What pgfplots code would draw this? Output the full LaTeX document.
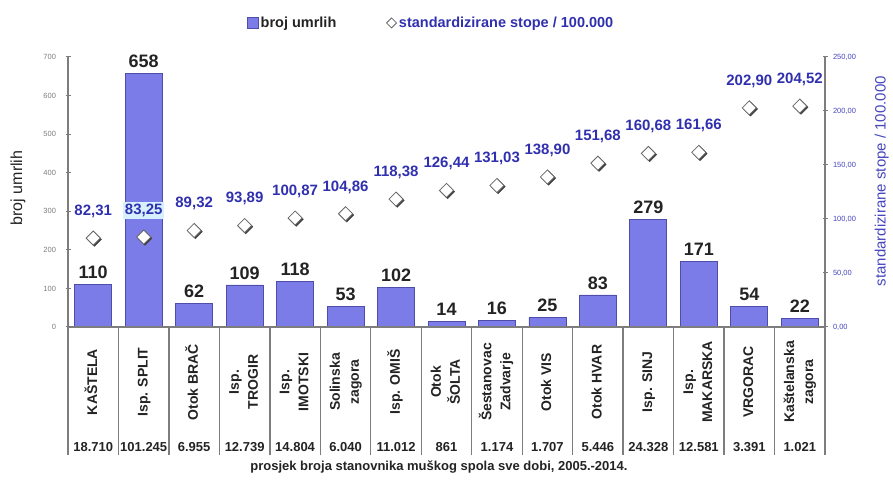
\documentclass[border=0pt]{standalone}
\usepackage{graphicx}
\usepackage{pgfplots}
\pgfplotsset{compat=1.18}
\usepackage{pgfplotstable}
\usepackage{fontspec}
\setmainfont{Liberation Sans}
\definecolor{barfill}{RGB}{124,124,232}
\definecolor{baredge}{RGB}{78,78,170}
\definecolor{rateblue}{RGB}{48,48,175}
\definecolor{tickblue}{RGB}{70,70,190}
\definecolor{axisgray}{RGB}{125,125,125}
\definecolor{hl}{RGB}{214,240,255}
\definecolor{darktext}{RGB}{35,35,35}
\newcommand\rl[1]{\rotatebox{90}{\begin{tabular}{@{}c@{}}#1\end{tabular}}}

\pgfplotstableread{
x deaths rate
0 110 82.31
1 658 83.25
2 62 89.32
3 109 93.89
4 118 100.87
5 53 104.86
6 102 118.38
7 14 126.44
8 16 131.03
9 25 138.90
10 83 151.68
11 279 160.68
12 171 161.66
13 54 202.90
14 22 204.52
}\data

\pgfplotsset{
  common/.style={
    scale only axis, width=757pt, height=270pt,
    at={(68pt,154pt)}, anchor=south west,
    xmin=-0.5, xmax=14.5,
    /pgf/number format/assume math mode=true,
    axis line style={draw=axisgray, line width=1.3pt},
    clip=false,
  }
}

\begin{document}
\begin{tikzpicture}
\useasboundingbox (0,0) rectangle (893pt,481pt);

% ---- bars: broj umrlih ----
\begin{axis}[common,
  ymin=0, ymax=700,
  axis x line*=bottom, axis y line*=left,
  ytick={0,100,...,700},
  tick align=center, major tick length=5pt,
  ytick style={draw=axisgray, line width=1pt},
  yticklabel style={font=\fontsize{7.5}{7.5}\selectfont, text=axisgray, xshift=-6pt},
  xtick=data,
  xtick style={draw=none},
  xticklabels={\rl{KAŠTELA}, \rl{Isp. SPLIT}, \rl{Otok BRAČ}, \rl{Isp.\\TROGIR}, \rl{Isp.\\IMOTSKI}, \rl{Solinska\\zagora}, \rl{Isp. OMIŠ}, \rl{Otok\\ŠOLTA}, \rl{Šestanovac\\Zadvarje}, \rl{Otok VIS}, \rl{Otok HVAR}, \rl{Isp. SINJ}, \rl{Isp.\\MAKARSKA}, \rl{VRGORAC}, \rl{Kaštelanska\\zagora}},
  xticklabel style={anchor=center, yshift=-50pt, text=darktext, font=\bfseries\fontsize{14}{19}\selectfont},
  extra x ticks={-0.5,0.5,1.5,2.5,3.5,4.5,5.5,6.5,7.5,8.5,9.5,10.5,11.5,12.5,13.5,14.5},
  extra x tick labels={},
  extra x tick style={tick align=outside, major tick length=128pt, xtick style={draw=axisgray, line width=1.3pt}},
  every axis y label/.style={at={(axis description cs:-0.066,0.515)}, rotate=90, anchor=center},
  ylabel={broj umrlih},
  ylabel style={font=\fontsize{16}{16}\selectfont, text=darktext},
  ybar, bar width=37pt,
  nodes near coords,
  nodes near coords style={font=\bfseries\fontsize{18}{18}\selectfont, text=darktext, yshift=2pt},
  legend style={draw=none, fill=none, at={(axis description cs:0.236,1.126)}, anchor=west, font=\bfseries\fontsize{14.5}{14.5}\selectfont, text=darktext, inner sep=0pt},
]
\addplot[draw=baredge, line width=0.8pt, fill=barfill,
  legend image code/.code={\draw[baredge, fill=barfill] (0pt,-5pt) rectangle (11pt,6pt);}]
  table[x=x, y=deaths] {\data};
\addlegendentry{broj umrlih}
\end{axis}

% ---- markers: standardizirane stope ----
\begin{axis}[common,
  ymin=0, ymax=250,
  axis x line*=bottom, axis y line*=right,
  ytick={0,50,...,250},
  tick align=center, major tick length=5pt,
  ytick style={draw=axisgray, line width=1pt},
  yticklabel style={font=\fontsize{7.5}{7.5}\selectfont, text=tickblue, xshift=2pt,
    /pgf/number format/.cd, fixed, zerofill, precision=2, use comma, 1000 sep={.}},
  xtick=data,
  xtick style={draw=none},
  xticklabels={18.710, 101.245, 6.955, 12.739, 14.804, 6.040, 11.012, 861, 1.174, 1.707, 5.446, 24.328, 12.581, 3.391, 1.021},
  xticklabel style={anchor=center, yshift=-118pt, text=darktext, font=\bfseries\fontsize{13}{13}\selectfont},
  every axis y label/.style={at={(axis description cs:1.075,0.54)}, rotate=90, anchor=center},
  ylabel={standardizirane stope / 100.000},
  ylabel style={font=\fontsize{15}{15}\selectfont, text=tickblue},
  legend style={draw=none, fill=none, at={(axis description cs:0.42,1.126)}, anchor=west, font=\bfseries\fontsize{14.5}{14.5}\selectfont, text=rateblue, inner sep=0pt},
]
\addplot[forget plot, only marks, mark=square*, mark size=5pt,
  mark options={xshift=1.2pt, yshift=-1.2pt, rotate=45, fill=black!75, draw=black!75}]
  table[x=x, y=rate] {\data};
\addplot[only marks, mark=square*, mark size=5pt,
  mark options={rotate=45, fill=white, draw=black!60, line width=0.8pt},
  nodes near coords={\pgfmathprintnumber[fixed,zerofill,precision=2,use comma]{\pgfplotspointmeta}},
  nodes near coords style={font=\bfseries\fontsize{15}{15}\selectfont, text=rateblue, inner sep=2pt, anchor=south, yshift=18pt},
  legend image code/.code={\draw[black!60, fill=white, line width=0.8pt] (0pt,0pt) -- (5pt,5pt) -- (10pt,0pt) -- (5pt,-5pt) -- cycle;}]
  table[x=x, y=rate] {\data};
\addlegendentry{standardizirane stope / 100.000}
\addplot[forget plot, draw=none, mark=none,
  nodes near coords={\pgfmathprintnumber[fixed,zerofill,precision=2,use comma]{\pgfplotspointmeta}},
  nodes near coords style={font=\bfseries\fontsize{15}{15}\selectfont, text=rateblue, fill=hl, inner sep=2pt, anchor=south, yshift=18pt}]
  coordinates {(1,83.25)};
\node[font=\bfseries\fontsize{13}{13}\selectfont, text=darktext] at (axis description cs:0.49,0) [yshift=-140pt] {prosjek broja stanovnika muškog spola sve dobi, 2005.-2014.};
\end{axis}
\end{tikzpicture}
\end{document}
